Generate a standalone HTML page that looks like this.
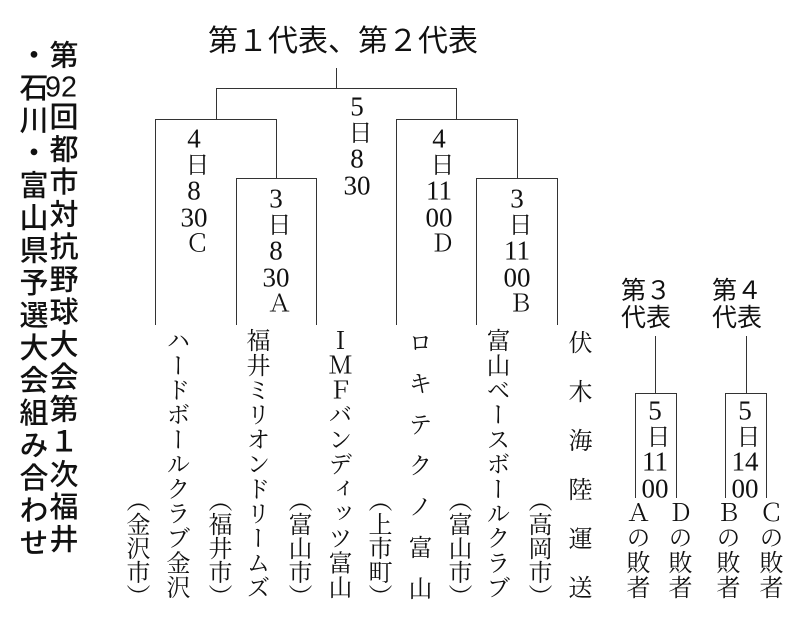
<!DOCTYPE html>
<html><head><meta charset="utf-8"><style>
body{margin:0;width:800px;height:620px;background:#fff;position:relative;overflow:hidden;color:#111}
.v{position:absolute;writing-mode:vertical-rl;text-orientation:upright;line-height:1;white-space:nowrap}
.s{font-family:"Liberation Serif","Noto Serif CJK JP","Noto Serif CJK SC",serif;font-size:24px;width:24px}
.g{font-family:"Liberation Sans","Noto Sans CJK JP",sans-serif;font-size:29px;width:29px;font-weight:500;letter-spacing:3.5px}
.c{text-combine-upright:all}
.s .c{font-size:27px}
.d{letter-spacing:0.5px}
.l{position:absolute;background:#333}
.h{position:absolute;font-family:"Liberation Sans","Noto Sans CJK JP",sans-serif;font-size:25px;line-height:27px;font-weight:400}
</style></head><body>
<!-- left title -->
<div class="v g" style="left:46px;top:40px">第<span class="c">92</span>回都市対抗野球大会第１次福井</div>
<div class="v g" style="left:16px;top:40px">・石川・富山県予選大会組み合わせ</div>

<div style="position:absolute;left:208px;top:24px;font-family:'Liberation Sans','Noto Sans CJK JP',sans-serif;font-size:30px;line-height:36px;font-weight:400;white-space:nowrap">第１代表、第２代表</div>

<!-- bracket lines -->
<div class="l" style="left:336px;top:68px;width:1px;height:20px"></div>
<div class="l" style="left:216px;top:88px;width:241px;height:1px"></div>
<div class="l" style="left:216px;top:88px;width:1px;height:31px"></div>
<div class="l" style="left:456px;top:88px;width:1px;height:31px"></div>
<div class="l" style="left:155px;top:119px;width:122px;height:1px"></div>
<div class="l" style="left:396px;top:119px;width:122px;height:1px"></div>
<div class="l" style="left:155px;top:119px;width:1px;height:206px"></div>
<div class="l" style="left:276px;top:119px;width:1px;height:59px"></div>
<div class="l" style="left:396px;top:119px;width:1px;height:206px"></div>
<div class="l" style="left:517px;top:119px;width:1px;height:59px"></div>
<div class="l" style="left:236px;top:178px;width:81px;height:1px"></div>
<div class="l" style="left:476px;top:178px;width:82px;height:1px"></div>
<div class="l" style="left:236px;top:178px;width:1px;height:147px"></div>
<div class="l" style="left:316px;top:178px;width:1px;height:147px"></div>
<div class="l" style="left:476px;top:178px;width:1px;height:147px"></div>
<div class="l" style="left:557px;top:178px;width:1px;height:147px"></div>

<!-- date labels -->
<div class="v s d" style="left:183px;top:125px"><span class="c">4</span>日<span class="c">8</span><span class="c">30</span>Ｃ</div>
<div class="v s d" style="left:265px;top:185px"><span class="c">3</span>日<span class="c">8</span><span class="c">30</span>Ａ</div>
<div class="v s d" style="left:346px;top:93px"><span class="c">5</span>日<span class="c">8</span><span class="c">30</span></div>
<div class="v s d" style="left:428px;top:125px"><span class="c">4</span>日<span class="c">11</span><span class="c">00</span>Ｄ</div>
<div class="v s d" style="left:506px;top:185px"><span class="c">3</span>日<span class="c">11</span><span class="c">00</span>Ｂ</div>

<!-- teams -->
<div class="v s" style="left:163px;top:328px;letter-spacing:0.7px">ハードボールクラブ金沢</div>
<div class="v s" style="left:123px;top:488px">（金沢市）</div>
<div class="v s" style="left:243px;top:328px;letter-spacing:0.7px">福井ミリオンドリームズ</div>
<div class="v s" style="left:205px;top:488px">（福井市）</div>
<div class="v s" style="left:325px;top:328px;letter-spacing:0.7px">ＩＭＦバンディッツ富山</div>
<div class="v s" style="left:285px;top:488px">（富山市）</div>
<div class="v s" style="left:405px;top:330px;letter-spacing:17px">ロキテクノ富山</div>
<div class="v s" style="left:365px;top:488px">（上市町）</div>
<div class="v s" style="left:483px;top:328px;letter-spacing:0.7px">富山ベースボールクラブ</div>
<div class="v s" style="left:445px;top:488px">（富山市）</div>
<div class="v s" style="left:565px;top:330px;letter-spacing:25px">伏木海陸運送</div>
<div class="v s" style="left:525px;top:488px">（高岡市）</div>

<!-- 3rd/4th -->
<div class="h" style="left:621px;top:278px">第３<br>代表</div>
<div class="h" style="left:712px;top:278px">第４<br>代表</div>
<div class="l" style="left:655px;top:336px;width:1px;height:57px"></div>
<div class="l" style="left:635px;top:393px;width:42px;height:1px"></div>
<div class="l" style="left:635px;top:393px;width:1px;height:105px"></div>
<div class="l" style="left:676px;top:393px;width:1px;height:105px"></div>
<div class="l" style="left:746px;top:336px;width:1px;height:57px"></div>
<div class="l" style="left:725px;top:393px;width:42px;height:1px"></div>
<div class="l" style="left:725px;top:393px;width:1px;height:105px"></div>
<div class="l" style="left:766px;top:393px;width:1px;height:105px"></div>
<div class="v s" style="left:644px;top:397px"><span class="c">5</span>日<span class="c">11</span><span class="c">00</span></div>
<div class="v s" style="left:734px;top:397px"><span class="c">5</span>日<span class="c">14</span><span class="c">00</span></div>
<div class="v s" style="left:623px;top:500px;letter-spacing:1px">Ａの敗者</div>
<div class="v s" style="left:665px;top:500px;letter-spacing:1px">Ｄの敗者</div>
<div class="v s" style="left:713px;top:500px;letter-spacing:1px">Ｂの敗者</div>
<div class="v s" style="left:756px;top:500px;letter-spacing:1px">Ｃの敗者</div>
</body></html>
